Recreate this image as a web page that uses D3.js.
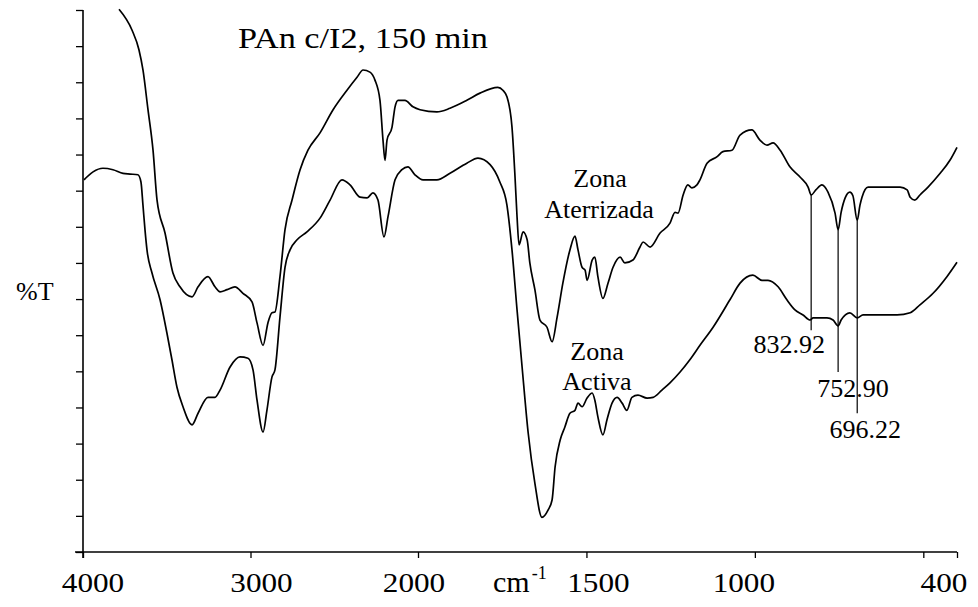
<!DOCTYPE html>
<html>
<head>
<meta charset="utf-8">
<script src="https://cdn.jsdelivr.net/npm/d3@7"></script>
<style>
  html, body { margin: 0; padding: 0; background: #fff; }
  svg text { font-family: "Liberation Serif", "Times New Roman", serif; fill: #000; }
</style>
</head>
<body>
<svg id="chart" width="978" height="607"></svg>
<script>
// IR spectrum of PAn c/I2 after 150 min: wavenumber (cm-1) vs %T
const zonaAterrizadaWn = [3785,3707,3666,3642,3612,3582,3558,3510,3463,3421,3349,3313,3254,3212,3182,3140,3093,3045,2991,2961,2925,2896,2872,2854,2824,2794,2752,2704,2657,2585,2507,2424,2364,2328,2287,2257,2227,2209,2197,2185,2155,2137,2119,2078,2030,1994,1944,1905,1855,1816,1763,1748,1736,1721,1712,1706,1700,1688,1676,1668,1653,1638,1617,1602,1587,1570,1549,1534,1525,1513,1504,1498,1483,1475,1466,1451,1436,1421,1400,1386,1362,1341,1332,1311,1282,1252,1237,1228,1213,1199,1187,1172,1163,1142,1112,1095,1068,1044,1009,985,964,946,925,896,866,842,832.92,819,801,783,762,752.90,744,732,718,709,696.22,688,682,664,608,569,548,539,525,510,486,450,421,400];
const zonaAterrizadaT  = [75.1,72.2,69.5,66.7,61.2,55.6,48.7,44.1,38.6,36.7,35.3,36.7,38.1,36.7,36.0,36.3,36.7,35.8,34.6,31.7,28.6,31.7,33.1,33.2,38.1,44.6,48.7,52.9,55.6,58.0,61.2,63.9,65.7,66.7,66.4,65.3,62.5,57.0,54.2,57.0,58.8,61.6,62.5,62.5,61.6,61.2,60.9,61.4,62.5,63.5,64.3,63.9,63.0,58.8,51.9,46.4,42.5,44.3,43.2,40.0,36.3,32.1,31.1,29.1,32.5,37.2,41.8,43.7,41.8,39.4,39.0,37.6,40.4,40.8,38.1,35.1,37.2,39.4,40.8,40.0,40.4,42.2,42.9,42.2,44.1,45.5,47.0,46.9,49.4,50.8,50.4,50.8,51.5,53.8,54.7,55.4,55.6,57.7,58.4,57.0,56.3,56.6,55.6,53.3,51.9,50.5,49.4,50.1,50.8,49.8,46.9,44.6,47.0,49.0,49.8,49.3,45.9,48.0,49.1,50.5,50.5,50.5,50.1,49.1,48.7,49.4,50.5,52.4,54.2,56.0];

const zonaActivaWn = [3994,3940,3881,3821,3761,3719,3672,3654,3642,3630,3618,3588,3540,3499,3469,3439,3403,3349,3313,3254,3212,3182,3122,3063,3015,2985,2961,2925,2902,2872,2854,2824,2794,2764,2722,2663,2585,2525,2454,2406,2346,2304,2269,2239,2203,2179,2137,2096,2060,2018,1985,1944,1905,1855,1822,1786,1757,1736,1721,1706,1691,1673,1653,1632,1614,1602,1593,1578,1564,1549,1534,1525,1513,1498,1483,1475,1466,1451,1439,1424,1409,1394,1380,1365,1347,1320,1302,1276,1252,1222,1193,1163,1124,1074,1044,1006,979,961,931,905,881,857,836,827,786,768,753,744,718,696,679,629,578,539,510,471,430,400];
const zonaActivaT  = [51.5,52.6,53.1,52.9,52.4,52.3,52.2,51.2,48.0,44.6,41.8,38.6,34.9,30.3,26.6,22.8,20.1,17.6,19.2,21.4,21.4,22.4,25.6,27.0,26.8,25.2,21.0,16.6,19.6,24.2,25.2,32.5,39.4,41.8,43.2,44.3,46.2,48.7,51.5,50.8,49.1,49.0,49.7,48.7,43.6,46.4,51.5,52.9,53.3,52.2,51.5,51.5,52.4,53.8,54.5,53.6,51.2,48.0,41.8,33.5,25.6,16.5,9.5,4.8,5.8,7.2,11.8,15.5,17.3,19.2,19.6,20.6,20.1,21.3,22.0,21.0,18.7,16.2,18.3,20.6,21.4,20.6,19.6,21.4,21.7,21.3,21.4,22.4,23.4,24.9,26.6,28.6,31.1,34.9,37.2,38.3,37.6,37.6,36.7,34.9,33.5,32.8,32.1,32.4,32.4,32.1,31.3,32.1,33.1,32.4,32.8,32.8,32.8,33.1,34.2,35.8,38.1,40.1];

// Axis ticks and labels
const xTickValues = [4000, 3000, 2000, 1500, 1000, 500, 400];
const xLabelValues = [4000, 3000, 2000, 1500, 1000, 400];
const yTickValues = [0,5,10,15,20,25,30,35,40,45,50,55,60,65,70,75];

// Marked bands on the Zona Aterrizada trace, with the %T where each leader line ends
const peakWn = [832.92, 752.90, 696.22];
const peakLabels = ["832.92", "752.90", "696.22"];
const leaderEndT = [30.7, 24.9, 19.2];

const svg = d3.select("#chart");

// Split wavenumber axis: 4000-2000 at half the scale of 2000-400
const x = d3.scaleLinear().domain([4000, 2000, 400]).range([83, 418, 957]);
const y = d3.scaleLinear().domain([0, 75]).range([552, 10]);

const line = d3.line().x(d => x(d[0])).y(d => y(d[1])).curve(d3.curveMonotoneX);

// X axis
const xAxis = svg.append("g").attr("transform", `translate(0,${y(0)})`)
  .call(d3.axisBottom(x).tickValues(xTickValues).tickSize(6).tickSizeOuter(0).tickFormat(""));
xAxis.select(".domain").remove();
xAxis.selectAll(".tick line").attr("stroke", "#000").attr("stroke-width", 1.3);
svg.append("line").attr("x1", 75).attr("x2", x(400)).attr("y1", y(0)).attr("y2", y(0))
  .attr("stroke", "#000").attr("stroke-width", 1.6);

// tick label nudges (px)
const xLabelNudge = {4000: 10, 3000: 11, 2000: -4, 1500: 12, 1000: -11, 400: -13};
svg.append("g").selectAll("text").data(xLabelValues).join("text")
  .attr("x", d => x(d) + xLabelNudge[d])
  .attr("y", 592)
  .attr("text-anchor", "middle")
  .attr("font-size", 27)
  .attr("textLength", d => String(d).length * 15.6)
  .attr("lengthAdjust", "spacingAndGlyphs")
  .text(d => d);

// cm-1 axis title
const cm = svg.append("text").attr("x", 493).attr("y", 592).attr("font-size", 30);
cm.append("tspan").text("cm");
cm.append("tspan").attr("font-size", 18).attr("dy", -13).attr("dx", 2).text("-1");

// Y axis
const yAxis = svg.append("g").attr("transform", `translate(${x(4000)},0)`)
  .call(d3.axisLeft(y).tickValues(yTickValues).tickSize(7).tickSizeOuter(0).tickFormat(""));
yAxis.select(".domain").remove();
yAxis.selectAll(".tick line").attr("stroke", "#000").attr("stroke-width", 1.3);
svg.append("line").attr("x1", x(4000)).attr("x2", x(4000)).attr("y1", y(75)).attr("y2", y(0) + 6)
  .attr("stroke", "#000").attr("stroke-width", 1.6);

svg.append("text").attr("x", 16).attr("y", 300).attr("font-size", 26).text("%T");

// Spectra
const topSeries = zonaAterrizadaWn.map((w, i) => [w, zonaAterrizadaT[i]]);
const botSeries = zonaActivaWn.map((w, i) => [w, zonaActivaT[i]]);
[topSeries, botSeries].forEach(s => {
  svg.append("path").datum(s).attr("d", line)
    .attr("fill", "none").attr("stroke", "#000").attr("stroke-width", 1.7)
    .attr("stroke-linejoin", "round");
});

// Leader lines from the marked bands
peakWn.forEach((w, i) => {
  const tTop = zonaAterrizadaT[zonaAterrizadaWn.indexOf(w)];
  svg.append("line")
    .attr("x1", x(w)).attr("x2", x(w))
    .attr("y1", y(tTop)).attr("y2", y(leaderEndT[i]))
    .attr("stroke", "#000").attr("stroke-width", 1.2);
});

// Band labels
const labelDx = [-22, 15, 8];
const labelY = [353, 397, 438];
svg.append("g").selectAll("text").data(peakLabels).join("text")
  .attr("x", (d, i) => x(peakWn[i]) + labelDx[i])
  .attr("y", (d, i) => labelY[i])
  .attr("text-anchor", "middle")
  .attr("font-size", 26)
  .text(d => d);

// Trace names
const names = [["Zona", 600, 187], ["Aterrizada", 599, 218], ["Zona", 597, 360], ["Activa", 597, 390]];
svg.append("g").selectAll("text").data(names).join("text")
  .attr("x", d => d[1]).attr("y", d => d[2])
  .attr("text-anchor", "middle").attr("font-size", 26)
  .text(d => d[0]);

// Title
svg.append("text").attr("x", 238).attr("y", 48).attr("font-size", 30)
  .attr("textLength", 250).attr("lengthAdjust", "spacingAndGlyphs")
  .text("PAn c/I2, 150 min");
</script>
</body>
</html>
